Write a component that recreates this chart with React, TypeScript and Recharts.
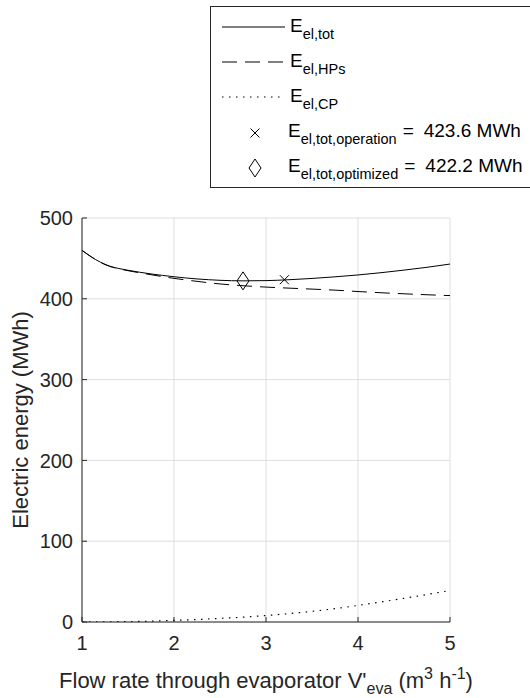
import { ComposedChart, Line, Scatter, XAxis, YAxis, CartesianGrid } from 'recharts';

const flowRates = [1, 1.1, 1.2, 1.3, 1.4, 1.5, 1.75, 2, 2.25, 2.5, 2.75, 3, 3.25, 3.5, 3.75, 4, 4.25, 4.5, 4.75, 5];
const totalEnergy = [460, 452, 445.3, 440.4, 437.5, 435.3, 430.8, 427.3, 424.6, 422.9, 422.2, 422.5, 423.6, 425.2, 427.2, 429.5, 432.3, 435.5, 439, 443];
const heatPumpEnergy = [460, 452, 445.2, 440.2, 437.2, 434.8, 429.8, 425.3, 421.6, 418.4, 416.2, 414.5, 413.2, 412, 410.7, 409, 407.5, 406.2, 405, 404];
const pumpEnergy = [0, 0.05, 0.15, 0.25, 0.35, 0.5, 1, 2, 3, 4.5, 6, 8, 10.4, 13.2, 16.5, 20.5, 24.8, 29.3, 34, 39];

const operationPoint = [{ flow: 3.2, energy: 423.6 }];
const optimizedPoint = [{ flow: 2.75, energy: 422.2 }];

const xTicks = [1, 2, 3, 4, 5];
const yTicks = [0, 100, 200, 300, 400, 500];

const chartData = flowRates.map((flow, i) => ({
  flow,
  total: totalEnergy[i],
  hps: heatPumpEnergy[i],
  cp: pumpEnergy[i],
}));

const FONT = '"Liberation Sans", Arial, Helvetica, sans-serif';
const AXIS = '#262626';

const Cross = (props: any) => {
  const { cx, cy } = props;
  const s = 4.5;
  return (
    <path d={`M${cx - s},${cy - s}L${cx + s},${cy + s}M${cx - s},${cy + s}L${cx + s},${cy - s}`} stroke="#000" strokeWidth={1} fill="none" />
  );
};

const Diamond = (props: any) => {
  const { cx, cy } = props;
  return (
    <path d={`M${cx},${cy - 9}L${cx + 6},${cy}L${cx},${cy + 9}L${cx - 6},${cy}Z`} stroke="#000" strokeWidth={1} fill="none" />
  );
};

function LegendBox() {
  const main = 19;
  const sub = 14.5;
  return (
    <svg width={530} height={698} style={{ position: 'absolute', left: 0, top: 0, pointerEvents: 'none' }}>
      <rect x={210.5} y={6.5} width={340} height={181} fill="#fff" stroke={AXIS} strokeWidth={1} />
      <g fontFamily={FONT} fill="#000">
        <line x1={222} x2={285} y1={27} y2={27} stroke="#000" strokeWidth={1} />
        <text x={290} y={32} fontSize={main}>E<tspan fontSize={sub} dy={7}>el,tot</tspan></text>

        <line x1={222} x2={285} y1={62} y2={62} stroke="#000" strokeWidth={1} strokeDasharray="15 8" />
        <text x={290} y={67} fontSize={main}>E<tspan fontSize={sub} dy={7}>el,HPs</tspan></text>

        <line x1={222} x2={285} y1={97} y2={97} stroke="#000" strokeWidth={1.2} strokeDasharray="1.5 5.5" />
        <text x={290} y={102} fontSize={main}>E<tspan fontSize={sub} dy={7}>el,CP</tspan></text>

        <Cross cx={255} cy={133} />
        <text x={288} y={137} fontSize={main}>
          E<tspan fontSize={sub} dy={7}>el,tot,operation</tspan>
          <tspan dy={-7} dx={6}>=</tspan>
          <tspan dx={10}>423.6 MWh</tspan>
        </text>

        <Diamond cx={255} cy={168} />
        <text x={288} y={172} fontSize={main}>
          E<tspan fontSize={sub} dy={7}>el,tot,optimized</tspan>
          <tspan dy={-7} dx={6}>=</tspan>
          <tspan dx={10}>422.2 MWh</tspan>
        </text>
      </g>

      <g fontFamily={FONT} fill={AXIS} fontSize={22}>
        <text transform="translate(28,420) rotate(-90)" textAnchor="middle">Electric energy (MWh)</text>
        <text x={266} y={688} textAnchor="middle">
          Flow rate through evaporator V'<tspan fontSize={16} dy={6}>eva</tspan>
          <tspan dy={-6}> (m</tspan>
          <tspan fontSize={16} dy={-9}>3</tspan>
          <tspan dy={9}> h</tspan>
          <tspan fontSize={16} dy={-9}>-1</tspan>
          <tspan dy={9}>)</tspan>
        </text>
      </g>
    </svg>
  );
}

export default function App() {
  const tickStyle = { fill: AXIS, fontSize: 20, fontFamily: FONT };
  return (
    <div style={{ position: 'absolute', left: 0, top: 0, width: 530, height: 698, background: '#fff' }}>
      <ComposedChart width={530} height={698} data={chartData} margin={{ top: 218, right: 80, bottom: 46, left: 32 }}>
        <CartesianGrid stroke="#dedede" strokeWidth={1} />
        <XAxis
          dataKey="flow"
          type="number"
          domain={[1, 5]}
          ticks={xTicks}
          height={30}
          stroke={AXIS}
          tickSize={-5}
          tickMargin={19}
          tick={tickStyle}
          allowDataOverflow
        />
        <XAxis
          xAxisId="top"
          dataKey="flow"
          type="number"
          orientation="top"
          domain={[1, 5]}
          ticks={xTicks}
          height={0}
          stroke={AXIS}
          tickSize={-5}
          tick={false}
        />
        <YAxis
          type="number"
          domain={[0, 500]}
          ticks={yTicks}
          width={50}
          stroke={AXIS}
          tickSize={-5}
          tickMargin={14}
          tick={tickStyle}
          allowDataOverflow
        />
        <YAxis
          yAxisId="right"
          orientation="right"
          type="number"
          domain={[0, 500]}
          ticks={yTicks}
          width={0}
          stroke={AXIS}
          tickSize={-5}
          tick={false}
        />
        <Line type="monotone" dataKey="total" stroke="#000" strokeWidth={1} dot={false} isAnimationActive={false} />
        <Line type="monotone" dataKey="hps" stroke="#000" strokeWidth={1} strokeDasharray="15 8" dot={false} isAnimationActive={false} />
        <Line type="monotone" dataKey="cp" stroke="#000" strokeWidth={1.2} strokeDasharray="1.5 5.5" dot={false} isAnimationActive={false} />
        <Scatter data={operationPoint} dataKey="energy" shape={Cross} isAnimationActive={false} />
        <Scatter data={optimizedPoint} dataKey="energy" shape={Diamond} isAnimationActive={false} />
      </ComposedChart>
      <LegendBox />
    </div>
  );
}
